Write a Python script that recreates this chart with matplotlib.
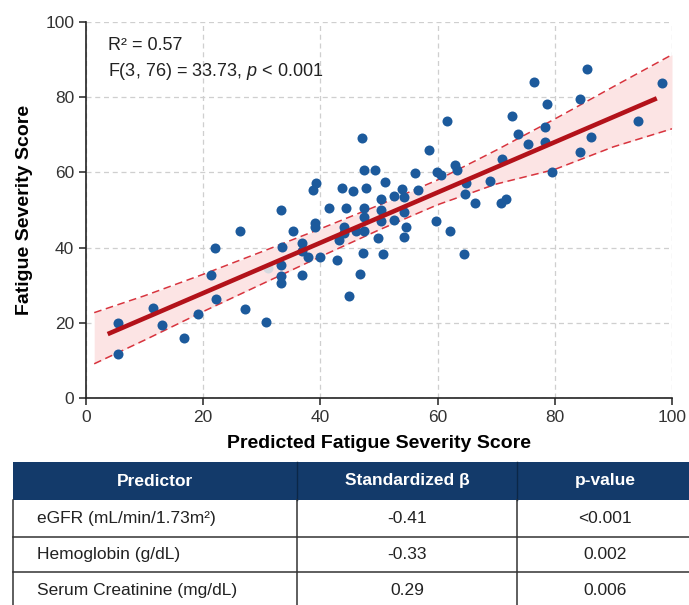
import matplotlib
matplotlib.use("Agg")
import matplotlib.pyplot as plt
from matplotlib.patches import Rectangle

plt.rcParams['font.family'] = ['Liberation Sans', 'DejaVu Sans']
plt.rcParams['mathtext.fontset'] = 'custom'
plt.rcParams['mathtext.it'] = 'Liberation Sans:italic'
plt.rcParams['mathtext.rm'] = 'Liberation Sans'

pred_x = [5.5, 5.5, 11.5, 12.9, 16.7, 19.1, 21.3, 22.0, 22.2, 26.3,
          27.1, 30.7, 33.2, 33.5, 33.2, 33.2, 33.2, 35.4, 36.8, 36.8,
          36.8, 37.9, 39.0, 39.0, 40.0, 41.5, 42.8, 43.1, 44.1, 44.1,
          44.4, 44.8, 46.0, 46.8, 47.2, 47.5, 47.5, 47.5, 49.9, 47.1,
          47.5, 49.4, 58.5, 61.6, 39.3, 38.7, 43.7, 45.6, 47.7, 51.1,
          56.2, 59.9, 60.6, 63.0, 63.3, 50.3, 52.5, 54.0, 54.3, 56.6,
          50.3, 52.5, 54.3, 50.3, 54.6, 54.3, 59.7, 62.1, 50.7, 64.5,
          66.3, 70.9, 71.6, 85.5, 76.4, 98.3, 84.3, 78.7, 72.7, 94.2,
          73.8, 78.4, 75.5, 78.4, 86.2, 84.3, 71.0, 68.9, 79.6, 64.8,
          64.7]
obs_y = [19.9, 11.7, 24.0, 19.4, 15.9, 22.4, 32.7, 39.9, 26.4, 44.5,
         23.7, 20.3, 50.1, 40.1, 35.4, 32.5, 30.5, 44.5, 41.2, 39.2,
         32.8, 37.5, 46.5, 45.6, 37.5, 50.5, 36.6, 41.9, 45.6, 43.9,
         50.5, 27.2, 44.5, 33.0, 38.5, 50.5, 48.1, 44.3, 42.5, 69.2,
         60.7, 60.7, 65.9, 73.8, 57.2, 55.2, 55.8, 55.1, 55.8, 57.4,
         59.8, 60.0, 59.4, 62.1, 60.7, 53.0, 53.6, 55.6, 53.4, 55.4,
         50.1, 47.4, 49.5, 47.0, 45.6, 42.7, 47.2, 44.5, 38.3, 38.3,
         51.9, 51.9, 52.9, 87.4, 84.1, 83.8, 79.4, 78.2, 74.9, 73.8,
         70.3, 72.1, 67.6, 68.0, 69.3, 65.3, 63.6, 57.6, 60.1, 57.3,
         54.2]
faint_x = [31.0]
faint_y = [34.5]

# fitted line and confidence band
fit_x = [3.7, 97.4]
fit_y = [17.0, 79.7]
ci_x = [1.4, 10, 20, 30, 40, 50, 60, 70, 80, 90, 100]
ci_upper = [22.7, 27.2, 32.9, 38.9, 45.0, 51.3, 58.0, 65.9, 74.2, 82.8, 91.3]
ci_lower = [9.1, 15.4, 23.0, 30.3, 37.6, 44.7, 51.4, 56.9, 60.8, 66.8, 71.6]

stats_line1 = "R² = 0.57"
stats_line2 = r"F(3, 76) = 33.73, $\mathit{p}$ < 0.001"

# regression table
headers = ["Predictor", "Standardized β", "p-value"]
predictors = ["eGFR (mL/min/1.73m²)", "Hemoglobin (g/dL)", "Serum Creatinine (mg/dL)"]
betas = ["-0.41", "-0.33", "0.29"]
pvals = ["<0.001", "0.002", "0.006"]

W, H = 689, 605
fig = plt.figure(figsize=(W / 100, H / 100), dpi=100)

ax = fig.add_axes([86 / W, 1 - 398 / H, 586 / W, 376 / H])
ax.fill_between(ci_x, ci_lower, ci_upper, color="#fce4e4", lw=0, zorder=1)
ax.plot(ci_x, ci_upper, color="#d8343e", lw=1.1, ls=(0, (5, 3)), zorder=2)
ax.plot(ci_x, ci_lower, color="#d8343e", lw=1.1, ls=(0, (5, 3)), zorder=2)
ax.scatter(faint_x, faint_y, s=52, color="#d6dae0", lw=0, zorder=3)
ax.scatter(pred_x, obs_y, s=52, color="#1c5a9c", lw=0, zorder=4)
ax.plot(fit_x, fit_y, color="#b3121a", lw=3.3, solid_capstyle="butt", zorder=5)

ax.set_xlim(0, 100)
ax.set_ylim(0, 100)
ax.set_xticks([0, 20, 40, 60, 80, 100])
ax.set_yticks([0, 20, 40, 60, 80, 100])
ax.grid(True, color="#cfcfcf", ls=(0, (4, 3)), lw=0.9)
ax.set_axisbelow(True)
for s in ["top", "right"]:
    ax.spines[s].set_visible(False)
for s in ["left", "bottom"]:
    ax.spines[s].set_linewidth(1.2)
    ax.spines[s].set_color("#222222")
ax.tick_params(axis="both", labelsize=12.5, length=5, width=1.1, colors="#222222", labelcolor="#333333")
ax.set_xlabel("Predicted Fatigue Severity Score", fontsize=14, fontweight="bold", labelpad=7)
ax.set_ylabel("Fatigue Severity Score", fontsize=14, fontweight="bold", labelpad=9)

ax.text(22 / 586, (398 - 46) / 376, stats_line1, transform=ax.transAxes,
        fontsize=13, va="center", ha="left", color="#222222")
ax.text(22 / 586, (398 - 71) / 376, stats_line2, transform=ax.transAxes,
        fontsize=13, va="center", ha="left", color="#222222")

# table drawn in pixel units of the figure
tab = fig.add_axes([0, 0, 1, 1], zorder=-1)
tab.set_xlim(0, W)
tab.set_ylim(H, 0)
tab.axis("off")

col_edges = [13, 297, 517, 693]
row_edges = [462, 500, 537, 572, 609]
navy = "#133a6a"
tab.add_patch(Rectangle((col_edges[0], row_edges[0]), col_edges[-1] - col_edges[0],
                        row_edges[1] - row_edges[0], color=navy, lw=0))
for i, h in enumerate(headers):
    cx = (col_edges[i] + col_edges[i + 1]) / 2
    cy = (row_edges[0] + row_edges[1]) / 2
    tab.text(cx, cy, h, color="white", fontsize=12.5, fontweight="bold", ha="center", va="center")
# header column dividers
for xe in col_edges[1:-1]:
    tab.plot([xe, xe], [row_edges[0], row_edges[1]], color="#0b2748", lw=1)

rows = list(zip(predictors, betas, pvals))
for r, row in enumerate(rows):
    top, bot = row_edges[r + 1], row_edges[r + 2]
    cy = (top + bot) / 2
    tab.text(col_edges[0] + 24, cy, row[0], fontsize=12.5, ha="left", va="center", color="#222222")
    for c in (1, 2):
        cx = (col_edges[c] + col_edges[c + 1]) / 2
        tab.text(cx, cy, row[c], fontsize=12.5, ha="center", va="center", color="#222222")
    tab.plot([col_edges[0], col_edges[-1]], [bot, bot], color="#333333", lw=1.1)
for xe in col_edges[:-1]:
    tab.plot([xe, xe], [row_edges[1], row_edges[-1]], color="#333333", lw=1.1)

fig.savefig("out.png", dpi=100)
